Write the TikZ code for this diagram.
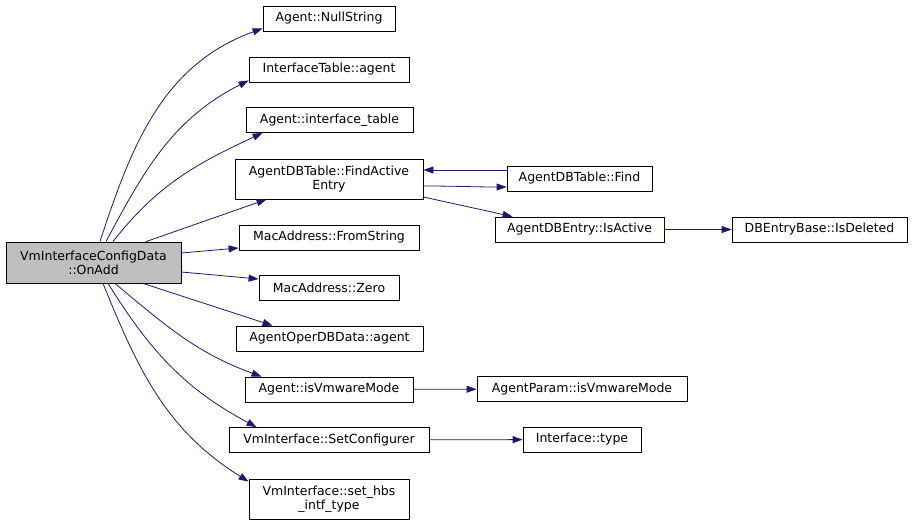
\documentclass[tikz,border=0pt]{standalone}
\usepackage{fontspec}
\setmainfont{DejaVu Sans}
\usetikzlibrary{arrows.meta}
\definecolor{edgeblue}{HTML}{191970}
\definecolor{rootgray}{HTML}{BFBFBF}
\begin{document}
\begin{tikzpicture}[x=1pt, y=1pt,
  fn/.style={draw, line width=0.8pt, minimum height=25pt, inner sep=0pt, align=center,
    font=\fontsize{12.5}{14}\selectfont},
  call/.style={draw=edgeblue, line width=0.8pt, -{Triangle[length=10pt,width=7pt]}, shorten >=0pt}
]
\useasboundingbox (0,0) rectangle (920,-524);
\node[fn, fill=rootgray, minimum width=175pt, minimum height=41pt] (onadd) at (93.5,-262.5) {VmInterfaceConfigData\\::OnAdd};
\node[fn, minimum width=132pt] (nullstr) at (329,-18.5) {Agent::NullString};
\node[fn, minimum width=160pt] (itagent) at (329,-69.5) {InterfaceTable::agent};
\node[fn, minimum width=167pt] (iftable) at (329.5,-120) {Agent::interface\_table};
\node[fn, minimum width=188pt, minimum height=40pt] (findact) at (329,-179) {AgentDBTable::FindActive\\Entry};
\node[fn, minimum width=180pt] (fromstr) at (329,-237.5) {MacAddress::FromString};
\node[fn, minimum width=140pt] (zero) at (329,-288) {MacAddress::Zero};
\node[fn, minimum width=187pt] (operagent) at (329.5,-338.5) {AgentOperDBData::agent};
\node[fn, minimum width=168pt] (isvm) at (329,-389.5) {Agent::isVmwareMode};
\node[fn, minimum width=200pt] (setconf) at (329,-440) {VmInterface::SetConfigurer};
\node[fn, minimum width=160pt, minimum height=40pt] (sethbs) at (329,-499) {VmInterface::set\_hbs\\\_intf\_type};
\node[fn, minimum width=145pt] (find) at (579.5,-178.5) {AgentDBTable::Find};
\node[fn, minimum width=169pt] (isactive) at (579.5,-229.5) {AgentDBEntry::IsActive};
\node[fn, minimum width=175pt] (isdel) at (819.5,-229.5) {DBEntryBase::IsDeleted};
\node[fn, minimum width=210pt] (param) at (582,-389) {AgentParam::isVmwareMode};
\node[fn, minimum width=118pt] (iftype) at (582,-439.5) {Interface::type};

\draw[call] ([xshift=6.5pt]onadd.north) to[out=72, in=200] ([yshift=3pt]nullstr.south west);
\draw[call] ([xshift=12.5pt]onadd.north) to[out=62, in=207] ([yshift=2pt]itagent.south west);
\draw[call] ([xshift=19.5pt]onadd.north) to[out=52, in=205] ([xshift=17pt]iftable.south west);
\draw[call] ([xshift=52.5pt]onadd.north) -- ([xshift=32pt]findact.south west);
\draw[call] ([yshift=9.5pt]onadd.east) -- ([yshift=-10.5pt]fromstr.west);
\draw[call] ([yshift=-9.5pt]onadd.east) -- ([yshift=9pt]zero.west);
\draw[call] ([xshift=49.5pt]onadd.south) -- ([xshift=37pt]operagent.north west);
\draw[call] ([xshift=21.5pt]onadd.south) to[out=-40, in=160] ([xshift=17pt]isvm.north west);
\draw[call] ([xshift=14.5pt]onadd.south) to[out=-58, in=152] ([xshift=28pt]setconf.north west);
\draw[call] ([xshift=9.5pt]onadd.south) to[out=-68, in=148] ([yshift=-3pt]sethbs.north west);
\draw[call] ([yshift=-7pt]findact.east) to[out=0, in=180] ([yshift=-8.5pt]find.west);
\draw[call] ([yshift=8.5pt]find.west) -- ([yshift=9pt]findact.east);
\draw[call] ([yshift=-18pt]findact.east) -- ([xshift=18pt]isactive.north west);
\draw[call] (isactive) -- (isdel);
\draw[call] (isvm) -- (param);
\draw[call] (setconf) -- (iftype);
\end{tikzpicture}
\end{document}
